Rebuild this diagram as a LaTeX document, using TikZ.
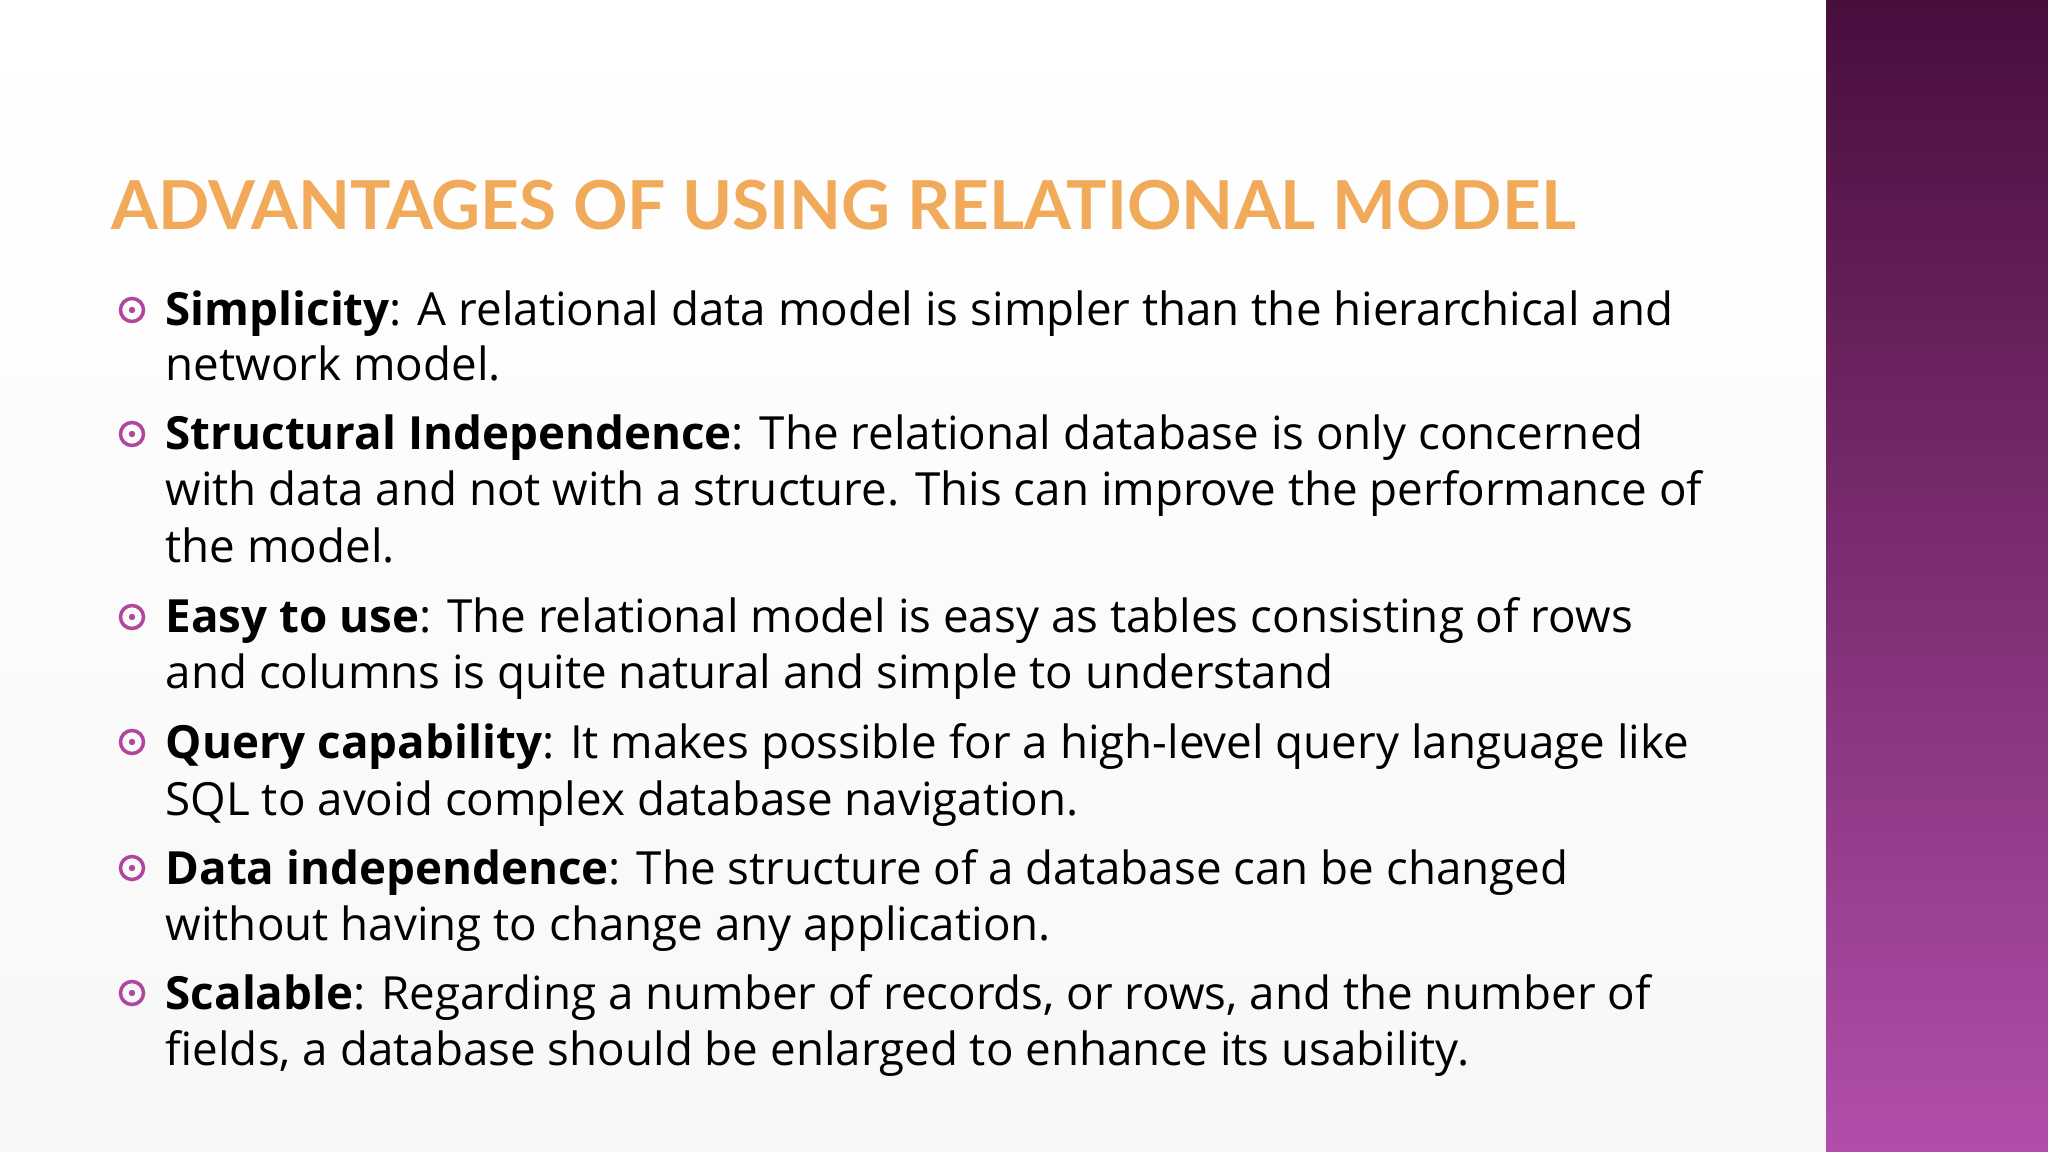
\documentclass[tikz,border=0pt]{standalone}
\usepackage{fontspec}
\setmainfont{Open Sans}
\newfontfamily\titlefont{Lato}
\definecolor{bul}{HTML}{B0469E}
\definecolor{ttl}{HTML}{F0AA5A}
\begin{document}
\begin{tikzpicture}[x=0.01cm,y=-0.01cm,
  ln/.style={anchor=base west,inner sep=0,font=\fontsize{13pt}{16pt}\selectfont},
  bl/.style={circle,draw=bul,line width=1pt,minimum size=0.23cm,inner sep=0}]
\fill[white] (0,0) rectangle (2048,1152);
\shade[top color=white,bottom color=black!3] (0,0) rectangle (1826,1152);
\shade[top color={rgb,255:red,72;green,14;blue,60},bottom color={rgb,255:red,178;green,78;blue,170}] (1826,0) rectangle (2048,1152);
\node[anchor=base west,inner sep=0,text=ttl] (title) at (111,230) {\resizebox{14.63cm}{!}{\titlefont\fontsize{22pt}{24pt}\selectfont\bfseries ADVANTAGES OF USING RELATIONAL MODEL}};
\foreach \y/\n in {310/1,434/2,617/3,742/4,868/5,993/6}{
  \node[bl] (b\n) at (132,\y) {};
  \fill[bul] (b\n.center) circle (3.2);
}
\node[ln] (l1) at (165,326) {\textbf{Simplicity}: A relational data model is simpler than the hierarchical and};
\node[ln] (l2) at (165,381) {network model.};
\node[ln] (l3) at (165,450) {\textbf{Structural Independence}: The relational database is only concerned};
\node[ln] (l4) at (165,506) {with data and not with a structure. This can improve the performance of};
\node[ln] (l5) at (165,563) {the model.};
\node[ln] (l6) at (165,633) {\textbf{Easy to use}: The relational model is easy as tables consisting of rows};
\node[ln] (l7) at (165,689) {and columns is quite natural and simple to understand};
\node[ln] (l8) at (165,758) {\textbf{Query capability}: It makes possible for a high-level query language like};
\node[ln] (l9) at (165,815) {SQL to avoid complex database navigation.};
\node[ln] (l10) at (165,884) {\textbf{Data independence}: The structure of a database can be changed};
\node[ln] (l11) at (165,940) {without having to change any application.};
\node[ln] (l12) at (165,1009) {\textbf{Scalable}: Regarding a number of records, or rows, and the number of};
\node[ln] (l13) at (165,1065) {fields, a database should be enlarged to enhance its usability.};
\end{tikzpicture}
\end{document}
